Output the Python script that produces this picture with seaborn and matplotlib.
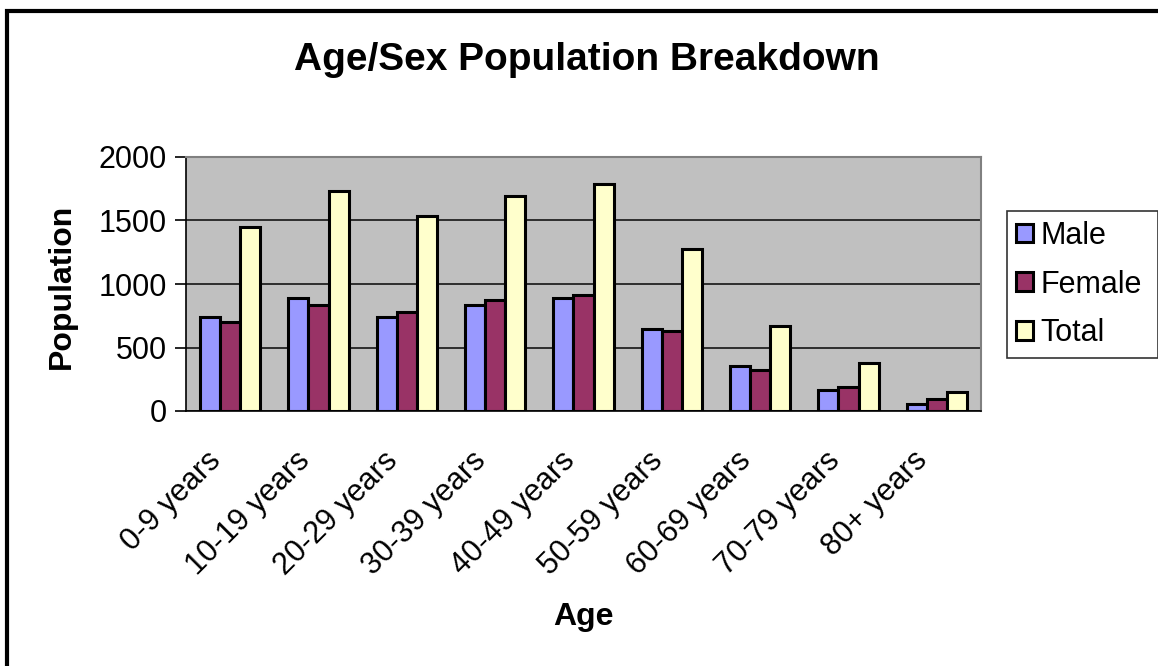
import numpy as np
import pandas as pd
import matplotlib
matplotlib.use('Agg')
import matplotlib.pyplot as plt
import matplotlib.transforms as mtransforms
import seaborn as sns
from matplotlib.patches import Rectangle

# ── Data ─────────────────────────────────────────────────────
age_groups = ['0-9 years', '10-19 years', '20-29 years', '30-39 years',
              '40-49 years', '50-59 years', '60-69 years', '70-79 years',
              '80+ years']
male   = [739, 892, 739, 837, 892, 645, 358, 168, 53]
female = [703, 837, 776, 874, 913, 626, 321, 187, 95]
total  = [1445, 1732, 1539, 1692, 1789, 1276, 666, 379, 153]
series = ['Male', 'Female', 'Total']
colors = ['#9999FF', '#993366', '#FFFFCC']

df = pd.DataFrame({'Age': age_groups * 3,
                   'Sex': np.repeat(series, len(age_groups)),
                   'Population': male + female + total})

# ── Plot ─────────────────────────────────────────────────────
sns.set_style('white')
plt.rcParams['font.family'] = ['Liberation Sans', 'DejaVu Sans']
plt.rcParams['text.color'] = 'black'
plt.rcParams['xtick.color'] = 'black'
plt.rcParams['ytick.color'] = 'black'

fig = plt.figure(figsize=(11.58, 6.66), dpi=100)
ax = fig.add_axes([186 / 1158, 1 - 411 / 666, 795 / 1158, 254 / 666])

sns.barplot(data=df, x='Age', y='Population', hue='Sex',
            palette=colors, width=0.68, edgecolor='black',
            linewidth=2.2, saturation=1, ax=ax, zorder=3)

ax.set_facecolor('#C0C0C0')
ax.set_ylim(0, 2000)
ax.set_xlim(-0.5, len(age_groups) - 0.5)
ax.set_yticks([0, 500, 1000, 1500, 2000])
ax.yaxis.grid(True, color='#222222', linewidth=1.3, zorder=1)
ax.set_axisbelow(True)

# ticks at category boundaries, labels at centres
ax.set_xticks(np.arange(len(age_groups)))
ax.set_xticklabels(age_groups, rotation=45, ha='right',
                   rotation_mode='anchor', fontsize=22)
ax.set_xticks(np.arange(-0.5, len(age_groups)), minor=True)
ax.tick_params(axis='x', which='major', length=0, pad=25)
ax.tick_params(axis='x', which='minor', length=10, width=1.2,
               color='black', direction='out')
ax.tick_params(axis='y', length=8, width=1.2, color='black',
               direction='out', labelsize=22, pad=6)
ax.tick_params(bottom=True, left=True)

# nudge rotated labels left, as in the original
shift = mtransforms.ScaledTranslation(-24 / 100, 0, fig.dpi_scale_trans)
for lbl in ax.get_xticklabels():
    lbl.set_transform(lbl.get_transform() + shift)

for side in ['top', 'right']:
    ax.spines[side].set_color('#808080')
    ax.spines[side].set_linewidth(1.5)
for side in ['left', 'bottom']:
    ax.spines[side].set_color('black')
    ax.spines[side].set_linewidth(1.2)

ax.set_xlabel('')
ax.set_ylabel('')
fig.text(587 / 1158, 1 - 60 / 666, 'Age/Sex Population Breakdown',
         ha='center', va='center', fontsize=28, fontweight='bold')
fig.text(62 / 1158, 1 - 286 / 666, 'Population', rotation=90,
         ha='center', va='center', fontsize=23, fontweight='bold')
fig.text(583 / 1158, 1 - 617 / 666, 'Age',
         ha='center', va='center', fontsize=23, fontweight='bold')

# legend
handles, labels = ax.get_legend_handles_labels()
leg = ax.legend(handles, labels, loc='center left',
                bbox_to_anchor=(1007 / 1158, 1 - 361 / 666,
                                151 / 1158, 153 / 666),
                bbox_transform=fig.transFigure, mode='expand',
                fontsize=22, frameon=True, fancybox=False,
                handlelength=0.55, handleheight=0.55, handletextpad=0.25,
                labelspacing=0.62, borderpad=0.3, borderaxespad=0)
leg.get_frame().set_edgecolor('black')
leg.get_frame().set_linewidth(1.2)

# chart border (left and top visible)
fig.patches.append(Rectangle((7 / 1158, -0.05), 1.2, 1 - 11 / 666 + 0.05,
                             transform=fig.transFigure, fill=False,
                             edgecolor='black', linewidth=3))

plt.savefig('out.png', dpi=100)
